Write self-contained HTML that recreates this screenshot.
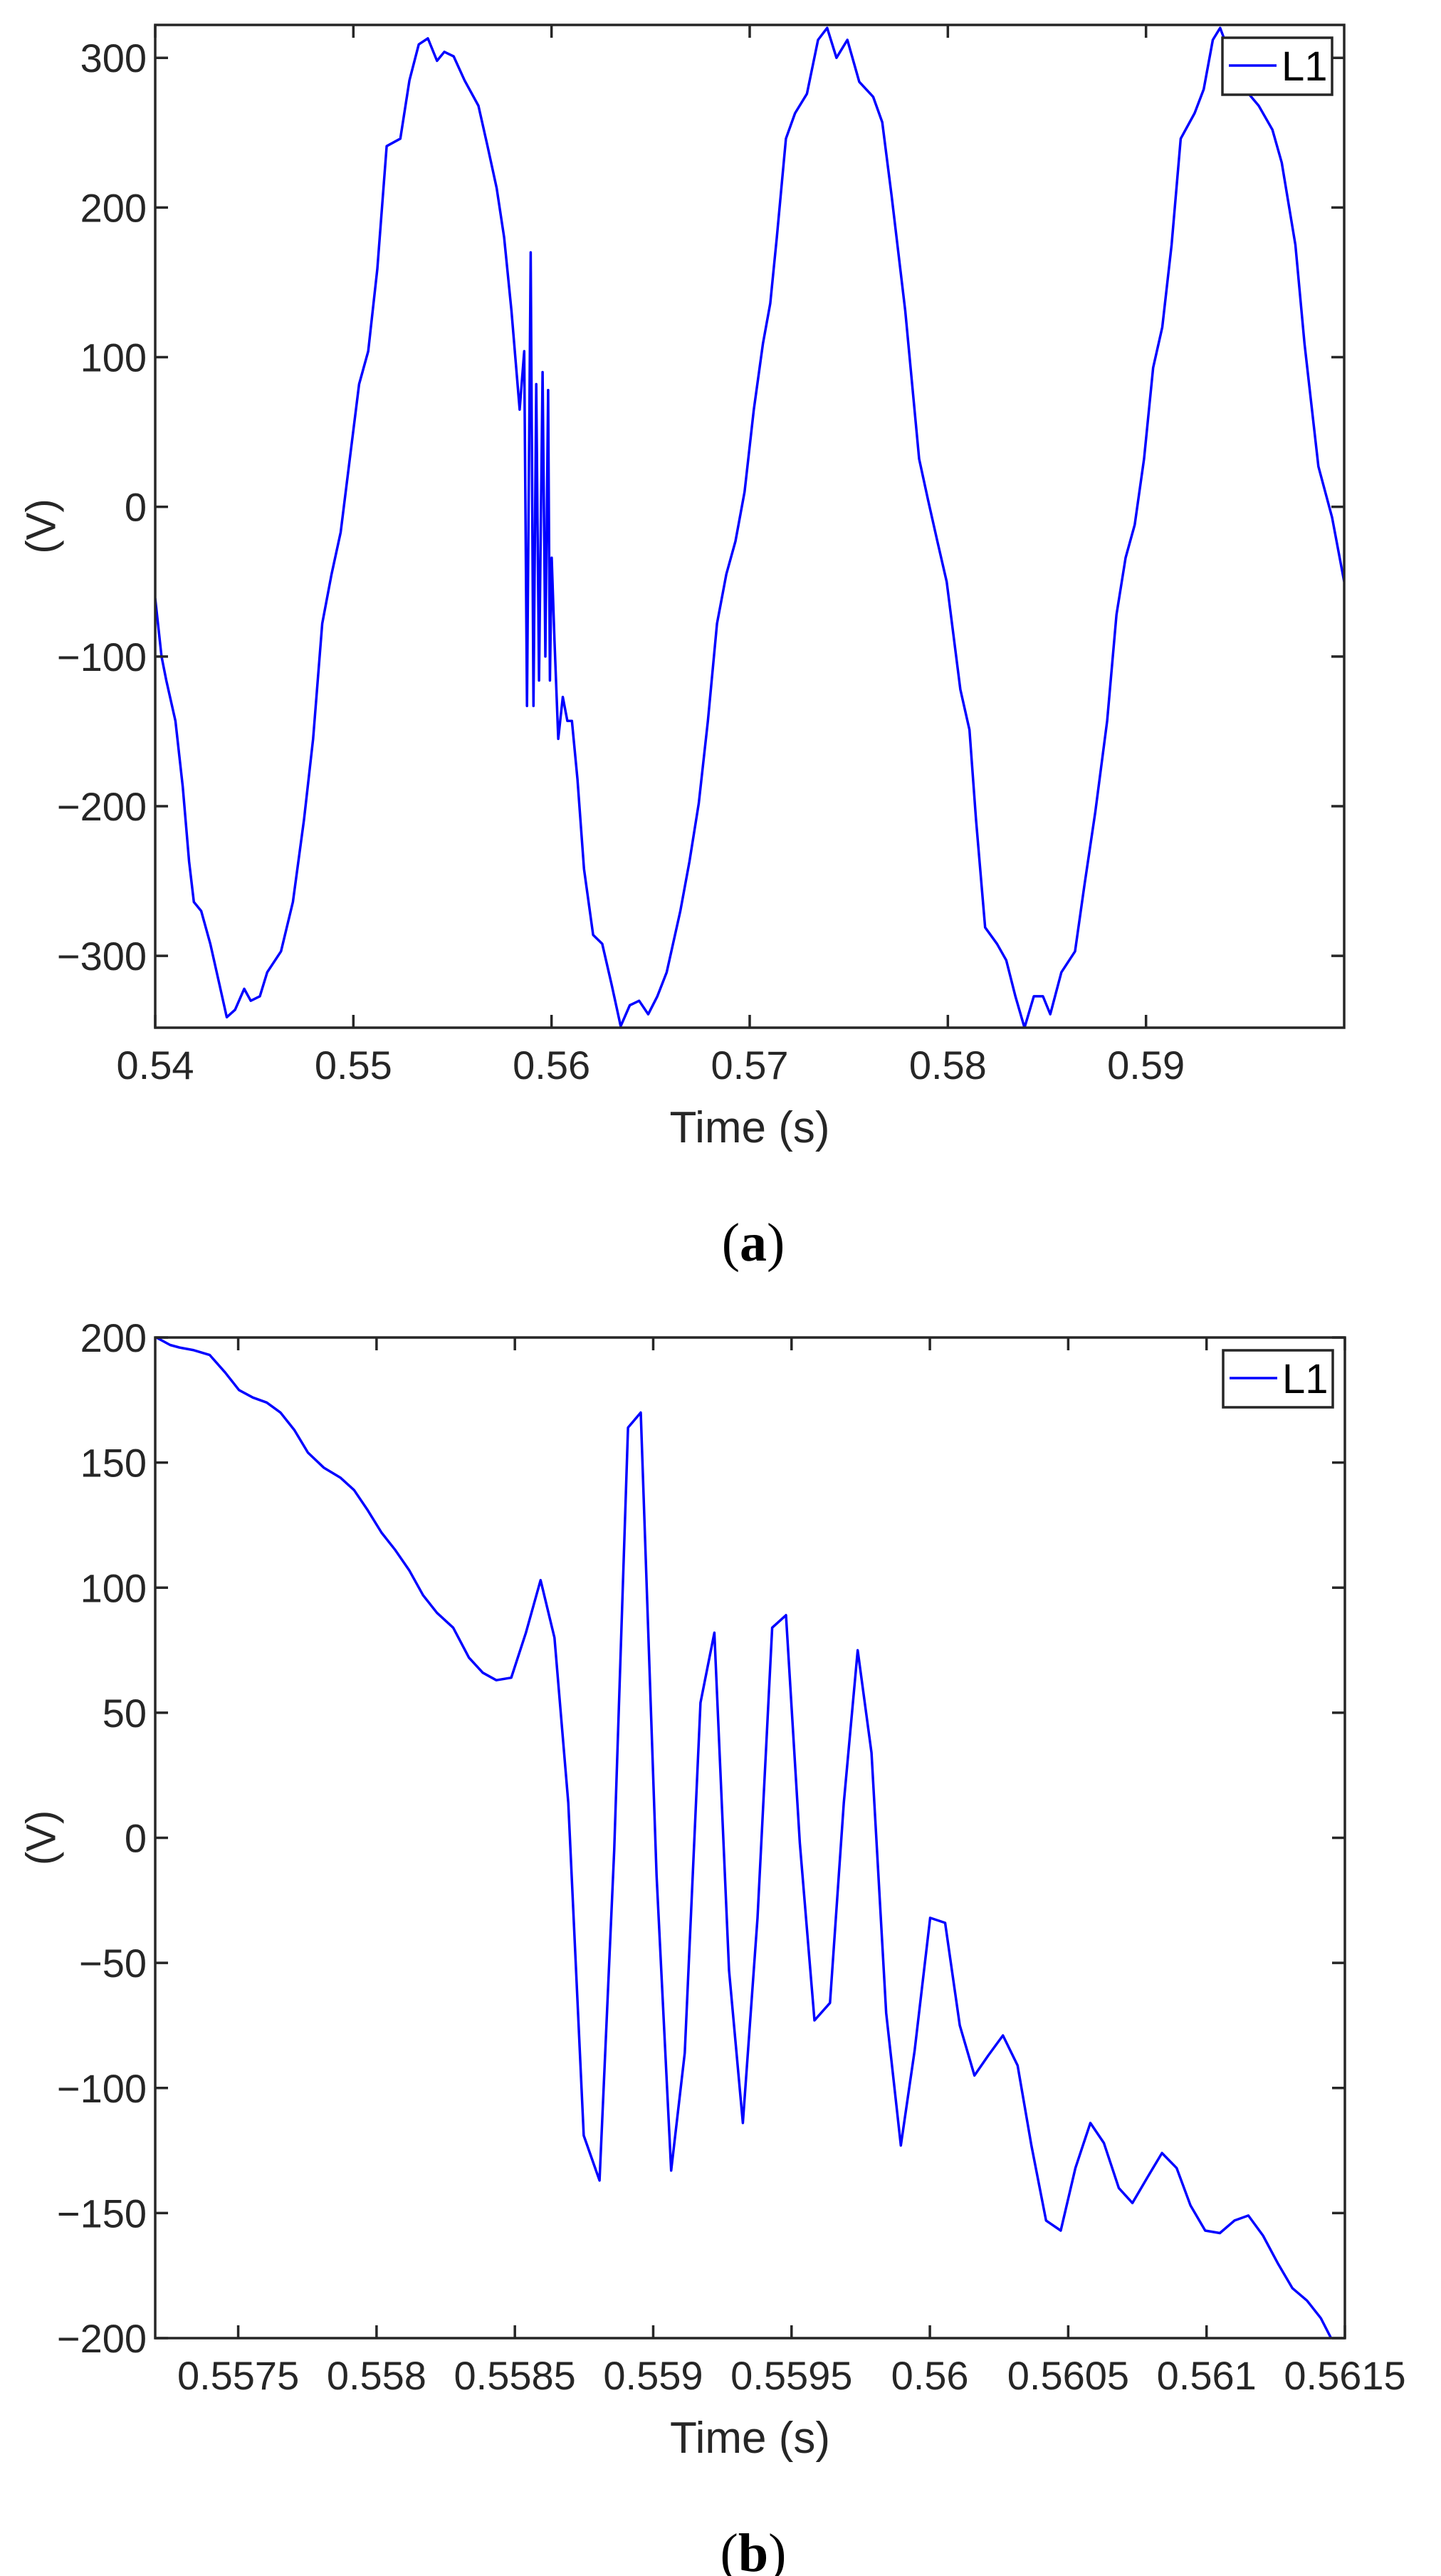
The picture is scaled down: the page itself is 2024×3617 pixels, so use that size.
<!DOCTYPE html>
<html><head><meta charset="utf-8"><style>
html,body{margin:0;padding:0;background:#fff;}
svg{display:block;}
</style></head><body>
<svg id="fig" width="2024" height="3617" viewBox="0 0 2024 3617" xmlns="http://www.w3.org/2000/svg" font-family="Liberation Sans, sans-serif"></svg>
<script>
// ---- Chart (a) data ----
const aTimeMs = [540.00,540.32,540.56,541.02,541.39,541.71,541.95,542.32,542.78,543.24,543.61,544.03,544.49,544.82,545.28,545.65,546.35,546.95,547.51,547.97,548.43,548.90,549.36,549.82,550.29,550.75,551.21,551.68,552.37,552.83,553.30,553.76,554.22,554.59,555.06,555.61,556.31,556.77,557.23,557.61,557.98,558.39,558.62,558.76,558.95,559.09,559.23,559.37,559.55,559.69,559.83,559.92,560.01,560.15,560.34,560.57,560.80,561.03,561.31,561.64,562.10,562.56,563.03,563.49,563.95,564.42,564.88,565.34,565.81,566.50,566.96,567.43,567.89,568.35,568.82,569.28,569.74,570.21,570.67,571.04,571.37,571.83,572.29,572.89,573.45,573.91,574.38,574.93,575.53,576.23,576.69,577.16,577.85,578.55,579.01,579.47,579.94,580.63,581.09,581.42,581.88,582.48,582.95,583.41,583.87,584.34,584.80,585.17,585.73,586.42,586.89,587.44,588.04,588.51,588.97,589.43,589.90,590.36,590.82,591.29,591.75,592.45,592.91,593.37,593.74,594.30,594.99,595.69,596.38,596.85,597.54,598.00,598.70,599.39,600.00];
const aVolts = [-61,-100,-116,-143,-187,-237,-264,-270,-292,-319,-341,-336,-322,-330,-327,-311,-297,-264,-209,-155,-78,-45,-17,32,82,104,159,241,246,285,309,313,298,304,301,285,268,241,213,180,131,65,104,-133,170,-133,82,-116,90,-100,78,-116,-34,-89,-155,-127,-143,-143,-182,-242,-286,-292,-319,-347,-333,-330,-339,-327,-311,-270,-237,-198,-143,-78,-45,-23,10,65,109,136,180,246,263,276,312,320,300,312,284,274,257,208,131,32,4,-23,-50,-122,-149,-209,-281,-292,-303,-327,-348,-327,-327,-339,-311,-297,-253,-204,-143,-72,-34,-12,32,93,120,175,246,263,279,312,320,300,279,268,252,230,175,109,27,-7,-50];
const aXTicks = [0.54,0.55,0.56,0.57,0.58,0.59];
const aXTickLabels = ["0.54","0.55","0.56","0.57","0.58","0.59"];
const aYTicks = [-300,-200,-100,0,100,200,300];
const aYTickLabels = ["\u2212300","\u2212200","\u2212100","0","100","200","300"];
// ---- Chart (b) data ----
const bTimeMs = [557.204,557.254,557.287,557.337,557.397,557.453,557.503,557.553,557.603,557.653,557.703,557.752,557.809,557.869,557.919,557.968,558.018,558.068,558.118,558.168,558.218,558.277,558.334,558.384,558.433,558.487,558.540,558.593,558.643,558.693,558.749,558.806,558.859,558.909,558.955,559.012,559.065,559.114,559.171,559.221,559.274,559.324,559.377,559.430,559.480,559.530,559.583,559.639,559.689,559.739,559.789,559.842,559.895,559.945,560.001,560.055,560.108,560.161,560.211,560.264,560.317,560.367,560.420,560.473,560.526,560.580,560.629,560.683,560.732,560.785,560.839,560.892,560.942,560.995,561.048,561.101,561.151,561.204,561.257,561.310,561.363,561.413,561.450];
const bVolts = [200,197,196,195,193,186,179,176,174,170,163,154,148,144,139,131,122,115,107,97,90,84,72,66,63,64,82,103,80,14,-119,-137,-5,164,170,-15,-133,-86,54,82,-53,-114,-32,84,89,-2,-73,-66,14,75,34,-70,-123,-85,-32,-34,-75,-95,-87,-79,-91,-123,-153,-157,-132,-114,-122,-140,-146,-136,-126,-132,-147,-157,-158,-153,-151,-159,-170,-180,-185,-192,-200];
const bXTicks = [0.5575,0.558,0.5585,0.559,0.5595,0.56,0.5605,0.561,0.5615];
const bXTickLabels = ["0.5575","0.558","0.5585","0.559","0.5595","0.56","0.5605","0.561","0.5615"];
const bYTicks = [-200,-150,-100,-50,0,50,100,150,200];
const bYTickLabels = ["\u2212200","\u2212150","\u2212100","\u221250","0","50","100","150","200"];

const NS = "http://www.w3.org/2000/svg";
const fig = document.getElementById('fig');
function mk(tag, attrs, parent){
  const e = document.createElementNS(NS, tag);
  for (const k in attrs) e.setAttribute(k, attrs[k]);
  (parent||fig).appendChild(e);
  return e;
}

function drawChart(cfg){
  const g = mk('g', {});
  
  
  const L=cfg.left, R=cfg.right, T=cfg.top, B=cfg.bottom;
  const xs = v => L + (v - cfg.xmin) / (cfg.xmax - cfg.xmin) * (R - L);
  const ys = v => B - (v - cfg.ymin) / (cfg.ymax - cfg.ymin) * (B - T);
  const clip = mk('clipPath', {id: cfg.name + '-clip'}, g);
  mk('rect', {x:L, y:T, width:R-L, height:B-T}, clip);
  let d = '';
  for (let i = 0; i < cfg.t.length; i++) {
    d += (i ? 'L' : 'M') + xs(cfg.t[i] / 1000).toFixed(1) + ' ' + ys(cfg.v[i]).toFixed(1);
  }
  const line = mk('path', {d:d, fill:'none', stroke:'#0000ff', 'stroke-width':3.5, 'stroke-linejoin':'round', 'clip-path':'url(#' + cfg.name + '-clip)'}, g);
  
  
  const frame = mk('rect', {x:L, y:T, width:R-L, height:B-T, fill:'none', stroke:'#262626', 'stroke-width':3.5}, g);
  
  
  cfg.xticks.forEach((tv, i) => {
    const x = xs(tv);
    mk('line', {x1:x, x2:x, y1:B, y2:B-18, stroke:'#262626', 'stroke-width':3.5}, g);
    mk('line', {x1:x, x2:x, y1:T, y2:T+18, stroke:'#262626', 'stroke-width':3.5}, g);
    const t = mk('text', {x:x, y:B+72, 'font-size':56, fill:'#262626', 'text-anchor':'middle'}, g);
    t.textContent = cfg.xlabels[i];
    
    
  });
  cfg.yticks.forEach((tv, i) => {
    const y = ys(tv);
    mk('line', {x1:L, x2:L+18, y1:y, y2:y, stroke:'#262626', 'stroke-width':3.5}, g);
    mk('line', {x1:R, x2:R-18, y1:y, y2:y, stroke:'#262626', 'stroke-width':3.5}, g);
    const t = mk('text', {x:L-12, y:y+20, 'font-size':56, fill:'#262626', 'text-anchor':'end'}, g);
    t.textContent = cfg.ylabels[i];
    
    
  });
  const xt = mk('text', {x:(L+R)/2, y:B+161, 'font-size':62, fill:'#262626', 'text-anchor':'middle'}, g);
  xt.textContent = 'Time (s)';
  
  
  const yc = (T+B)/2;
  const yt = mk('text', {x:58, y:yc, 'font-size':58, fill:'#262626', 'text-anchor':'middle', 'dominant-baseline':'central', transform:'rotate(-90 58 ' + yc + ')'}, g);
  yt.textContent = '(V)';
  
  
  const lg = mk('g', {}, g);
  
  
  mk('rect', {x:R-171, y:T+18, width:154, height:80, fill:'#fff', stroke:'#262626', 'stroke-width':3.5}, lg);
  mk('line', {x1:R-162, x2:R-95, y1:T+57, y2:T+57, stroke:'#0000ff', 'stroke-width':3.5}, lg);
  const lt = mk('text', {x:R-88, y:T+78, 'font-size':58, fill:'#000'}, lg);
  lt.textContent = 'L1';
  
  
  const cap = mk('text', {x:1058, y:B+327, 'font-size':76, fill:'#000', 'text-anchor':'middle', 'font-family':'Liberation Serif, serif'}, g);
  
  
  const s1 = mk('tspan', {}, cap); s1.textContent = '(';
  const s2 = mk('tspan', {'font-weight':'bold'}, cap); s2.textContent = cfg.letter;
  const s3 = mk('tspan', {}, cap); s3.textContent = ')';
}

drawChart({name:'chart-a', left:218, right:1888, top:35, bottom:1443, xmin:0.54, xmax:0.60, ymin:-348, ymax:322,
  t:aTimeMs, v:aVolts, xticks:aXTicks, xlabels:aXTickLabels, yticks:aYTicks, ylabels:aYTickLabels, letter:'a'});
drawChart({name:'chart-b', left:218, right:1889, top:1878, bottom:3283, xmin:0.55720, xmax:0.5615, ymin:-200, ymax:200,
  t:bTimeMs, v:bVolts, xticks:bXTicks, xlabels:bXTickLabels, yticks:bYTicks, ylabels:bYTickLabels, letter:'b'});
</script>
</body></html>
